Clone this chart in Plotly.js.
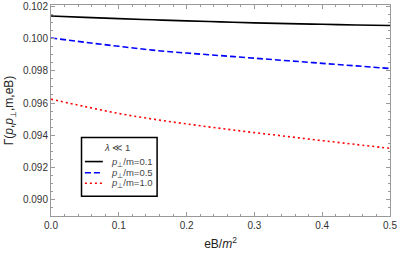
<!DOCTYPE html>
<html><head><meta charset="utf-8">
<script src="https://cdn.plot.ly/plotly-3.0.1.min.js"></script>
<style>body{margin:0;padding:0;background:#fff}#chart{width:399px;height:254px}</style>
</head><body><div id="chart"></div>
<script>
const eB = [0, 0.05, 0.1, 0.15, 0.2, 0.25, 0.3, 0.35, 0.4, 0.45, 0.5];
const gamma01 = [0.10142, 0.10133, 0.10125, 0.10118, 0.10111, 0.10105, 0.10099, 0.10094, 0.10090, 0.10086, 0.10082];
const gamma05 = [0.10005, 0.09978, 0.09953, 0.09929, 0.09911, 0.09895, 0.09879, 0.09863, 0.09847, 0.09831, 0.09815];
const gamma10 = [0.09624, 0.09578, 0.09535, 0.09500, 0.09470, 0.09442, 0.09416, 0.09391, 0.09366, 0.09342, 0.09318];
const seriesNames = ['<i>p</i><sub>⊥</sub>/m=0.1', '<i>p</i><sub>⊥</sub>/m=0.5', '<i>p</i><sub>⊥</sub>/m=1.0'];
const legendTitle = '<i>λ</i> ≪ 1';
const xTickVals = [0, 0.1, 0.2, 0.3, 0.4, 0.5];
const yTickVals = [0.090, 0.092, 0.094, 0.096, 0.098, 0.100, 0.102];

const colors = ['#000000', '#0000ff', '#ff0000'];
const dashes = ['solid', '6px,3px', '2px,3px'];
const series = [gamma01, gamma05, gamma10];

const traces = series.map((s, i) => ({
  x: eB, y: s, name: seriesNames[i], mode: 'lines',
  line: {color: colors[i], width: 1.6, dash: dashes[i], shape: 'spline'}
}));

// manual compact legend (paper coordinates)
const legBox = {x0: 0.090, x1: 0.313, y0: 0.094, y1: 0.372};
const entryY = [0.258, 0.205, 0.155];
const shapes = [{type: 'rect', xref: 'paper', yref: 'paper', x0: legBox.x0, x1: legBox.x1, y0: legBox.y0, y1: legBox.y1,
  line: {color: '#000', width: 1.5}, fillcolor: '#fff', layer: 'above'}];
const annotations = [{xref: 'paper', yref: 'paper', x: 0.196, y: 0.326, text: legendTitle, showarrow: false,
  xanchor: 'center', yanchor: 'middle', font: {size: 9.5, color: '#444'}}];
seriesNames.forEach((n, i) => {
  shapes.push({type: 'line', xref: 'paper', yref: 'paper', x0: 0.100, x1: 0.153, y0: entryY[i], y1: entryY[i],
    line: {color: colors[i], width: 1.6, dash: dashes[i]}, layer: 'above'});
  annotations.push({xref: 'paper', yref: 'paper', x: 0.172, y: entryY[i], text: n, showarrow: false,
    xanchor: 'left', yanchor: 'middle', font: {size: 9.5, color: '#444'}});
});

const axisCommon = {
  showline: true, linecolor: '#999', linewidth: 1, mirror: 'allticks',
  ticks: 'inside', ticklen: 4, tickcolor: '#999', tickwidth: 1,
  showgrid: false, zeroline: false,
  tickfont: {family: 'Arial, Liberation Sans, sans-serif', size: 10, color: '#333'}
};
const layout = {
  width: 399, height: 254,
  margin: {l: 51, r: 9, t: 5, b: 38},
  paper_bgcolor: '#fff', plot_bgcolor: '#fff',
  showlegend: false,
  font: {family: 'Arial, Liberation Sans, sans-serif', color: '#222'},
  xaxis: Object.assign({}, axisCommon, {
    range: [0, 0.5], tickvals: xTickVals, tickformat: '.1f',
    minor: {dtick: 0.02, ticklen: 2, tickcolor: '#999', ticks: 'inside'},
    title: {text: 'eB/<i>m</i><sup>2</sup>', font: {size: 12, color: '#222'}, standoff: 9}
  }),
  yaxis: Object.assign({}, axisCommon, {
    range: [0.08897, 0.1021], tickvals: yTickVals, tickformat: '.3f',
    minor: {dtick: 0.0005, ticklen: 2, tickcolor: '#999', ticks: 'inside'},
    title: {text: 'Γ(<i>p</i>,<i>p</i><sub>⊥</sub>,m,eB)', font: {size: 12, color: '#222'}, standoff: 6}
  }),
  shapes: shapes,
  annotations: annotations
};
Plotly.newPlot('chart', traces, layout, {displayModeBar: false, staticPlot: true});
</script></body></html>
